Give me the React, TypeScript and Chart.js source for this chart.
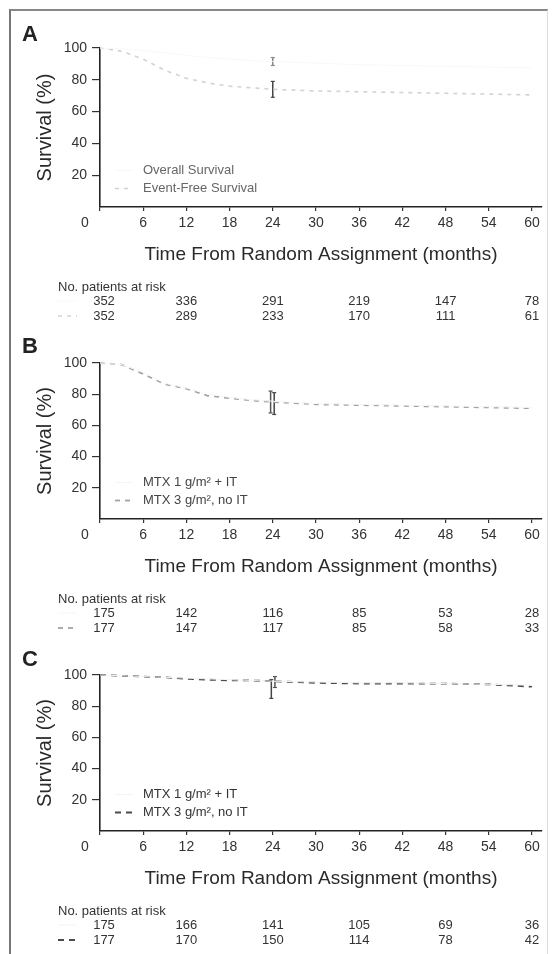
import React, { useEffect, useRef } from 'react';
import { Chart, registerables } from 'chart.js';

Chart.register(...registerables);

const FONT = '"Liberation Sans", Arial, Helvetica, sans-serif';

// ---------- shared axes ----------
const months = [0, 3, 6, 9, 12, 15, 18, 21, 24, 30, 36, 42, 48, 54, 60];
const xTickValues = [0, 6, 12, 18, 24, 30, 36, 42, 48, 54, 60];
const yTickValues = [20, 40, 60, 80, 100];
const riskMonths = [0, 12, 24, 36, 48, 60];
const xTitle = 'Time From Random Assignment (months)';
const yTitle = 'Survival (%)';
const riskHeader = 'No. patients at risk';

// ---------- panel A ----------
const aLabels = ['Overall Survival', 'Event-Free Survival'];
const aOverall = [100, 99.5, 98.5, 97, 95.5, 94, 93, 92, 91.5, 90.5, 89.5, 89, 88.5, 88, 87.5];
const aEventFree = [100, 98, 93, 86, 81, 78, 76, 75, 74, 73, 72.5, 72, 71.5, 71, 70.5];
const aRiskOverall = [352, 336, 291, 219, 147, 78];
const aRiskEventFree = [352, 289, 233, 170, 111, 61];
const aCiMonths = [24, 24];
const aCiOverall = [89, 94];
const aCiEventFree = [69, 79];

// ---------- panel B ----------
const mtxLabels = ['MTX 1 g/m² + IT', 'MTX 3 g/m², no IT'];
const bMtx1 = [100, 99, 94, 87, 84, 80, 78, 76.5, 75.5, 74, 73.5, 73, 72.5, 72, 71.5];
const bMtx3 = [100, 99, 93, 86.5, 83.5, 79, 77.5, 76, 75, 73.5, 73, 72.5, 72, 71.5, 71];
const bRisk1 = [175, 142, 116, 85, 53, 28];
const bRisk3 = [177, 147, 117, 85, 58, 33];
const bCiMonths = [23.7, 24.2];
const bCi1 = [68, 82];
const bCi3 = [67, 81];

// ---------- panel C ----------
const cMtx1 = [100, 99.5, 99, 98.5, 98, 97.5, 97, 96.5, 96, 95.5, 95, 95, 94.5, 94, 93.5];
const cMtx3 = [100, 99.5, 99, 98.5, 97.5, 97, 96.5, 96.5, 96, 95, 94.5, 94.5, 94.5, 94, 92.5];
const cRisk1 = [175, 166, 141, 105, 69, 36];
const cRisk3 = [177, 170, 150, 114, 78, 42];
const cCiMonths = [23.8, 24.3];
const cCi1 = [85, 97];
const cCi3 = [92, 99];

type Style = { color: string; width: number; dash: number[] };

type PanelSpec = {
  letter: string;
  canvasTop: number;
  canvasHeight: number;
  plotTop: number;
  plotBottom: number;
  letterY: number;
  labels: string[];
  series: number[][];
  styles: Style[];
  risk: number[][];
  ciMonths: number[];
  ci: number[][];
  ciColors: string[];
  legendColor: string;
};

const panels: PanelSpec[] = [
  {
    letter: 'A',
    canvasTop: 0,
    canvasHeight: 322,
    plotTop: 48,
    plotBottom: 207,
    letterY: 35,
    labels: aLabels,
    series: [aOverall, aEventFree],
    styles: [
      { color: '#f8f8f8', width: 1, dash: [] },
      { color: '#d2d2d2', width: 1.6, dash: [4, 5] },
    ],
    risk: [aRiskOverall, aRiskEventFree],
    ciMonths: aCiMonths,
    ci: [aCiOverall, aCiEventFree],
    ciColors: ['#888', '#444'],
    legendColor: '#666',
  },
  {
    letter: 'B',
    canvasTop: 322,
    canvasHeight: 318,
    plotTop: 363,
    plotBottom: 519,
    letterY: 347,
    labels: mtxLabels,
    series: [bMtx1, bMtx3],
    styles: [
      { color: '#f6f6f6', width: 1, dash: [] },
      { color: '#a3a3a3', width: 1.8, dash: [5, 5] },
    ],
    risk: [bRisk1, bRisk3],
    ciMonths: bCiMonths,
    ci: [bCi1, bCi3],
    ciColors: ['#555', '#444'],
    legendColor: '#444',
  },
  {
    letter: 'C',
    canvasTop: 640,
    canvasHeight: 314,
    plotTop: 675,
    plotBottom: 831,
    letterY: 660,
    labels: mtxLabels,
    series: [cMtx1, cMtx3],
    styles: [
      { color: '#f4f4f4', width: 1, dash: [] },
      { color: '#4a4a4a', width: 1.8, dash: [6, 5] },
    ],
    risk: [cRisk1, cRisk3],
    ciMonths: cCiMonths,
    ci: [cCi1, cCi3],
    ciColors: ['#444', '#555'],
    legendColor: '#333',
  },
];

function drawSample(ctx: CanvasRenderingContext2D, x1: number, x2: number, y: number, st: Style) {
  ctx.save();
  ctx.strokeStyle = st.color;
  ctx.lineWidth = st.width;
  ctx.setLineDash(st.dash);
  ctx.beginPath();
  ctx.moveTo(x1, y);
  ctx.lineTo(x2, y);
  ctx.stroke();
  ctx.restore();
}

function makeExtras(p: PanelSpec) {
  return {
    id: 'panelExtras' + p.letter,
    afterDraw(chart: any) {
      const { ctx, chartArea, scales } = chart;
      const xs = scales.x;
      ctx.save();
      // panel letter
      ctx.font = 'bold 22px ' + FONT;
      ctx.fillStyle = '#222';
      ctx.textBaseline = 'middle';
      ctx.textAlign = 'left';
      ctx.fillText(p.letter, 22, p.letterY - p.canvasTop);

      // origin label
      ctx.font = '14px ' + FONT;
      ctx.fillStyle = '#333';
      ctx.textAlign = 'center';
      ctx.fillText('0', xs.getPixelForValue(0) - 15, chartArea.bottom + 16.4);

      // legend inside plot
      ctx.font = '13px ' + FONT;
      ctx.textAlign = 'left';
      p.labels.forEach((lab, i) => {
        const y = chartArea.bottom - 36.5 + i * 18;
        drawSample(ctx, 115, 133, y, p.styles[i]);
        ctx.fillStyle = p.legendColor;
        ctx.fillText(lab, 143, y);
      });

      // risk table
      ctx.fillStyle = '#333';
      ctx.textAlign = 'left';
      ctx.fillText(riskHeader, 58, chartArea.bottom + 80);
      p.risk.forEach((row, r) => {
        const y = chartArea.bottom + 94 + r * 15;
        drawSample(ctx, 58, 77, y, p.styles[r]);
        ctx.fillStyle = '#333';
        ctx.textAlign = 'center';
        row.forEach((n, i) => {
          const px = xs.getPixelForValue(riskMonths[i]) + (i === 0 ? 4 : 0);
          ctx.fillText(String(n), px, y);
        });
      });
      ctx.restore();
    },
  };
}

function Panel({ p }: { p: PanelSpec }) {
  const ref = useRef<HTMLCanvasElement>(null);
  useEffect(() => {
    if (!ref.current) return;
    const datasets: any[] = [];
    p.series.forEach((vals, i) => {
      datasets.push({
        type: 'line',
        label: p.labels[i],
        data: months.map((m, k) => ({ x: m, y: vals[k] })),
        borderColor: p.styles[i].color,
        borderWidth: p.styles[i].width,
        borderDash: p.styles[i].dash,
        pointRadius: 0,
        tension: 0,
        fill: false,
        clip: false,
      });
    });
    p.ci.forEach((range, i) => {
      datasets.push({
        type: 'line',
        label: p.labels[i] + ' 95% CI',
        data: range.map((v) => ({ x: p.ciMonths[i], y: v })),
        borderColor: p.ciColors[i],
        borderWidth: 1.5,
        pointRadius: 2,
        pointStyle: 'line',
        pointBorderColor: p.ciColors[i],
        pointBorderWidth: 1.2,
        fill: false,
        clip: false,
      });
    });
    const tickFont = { family: FONT, size: 14 };
    const chart = new Chart(ref.current, {
      type: 'line',
      data: { datasets },
      options: {
        animation: false,
        responsive: false,
        layout: {
          padding: {
            left: 0,
            right: 11,
            top: p.plotTop - p.canvasTop,
            bottom: p.canvasTop + p.canvasHeight - p.plotBottom - 60,
          },
        },
        plugins: { legend: { display: false }, tooltip: { enabled: false } },
        scales: {
          x: {
            type: 'linear',
            min: 0,
            max: 61.4,
            afterBuildTicks: (s: any) => {
              s.ticks = xTickValues.map((v) => ({ value: v }));
            },
            afterFit: (s: any) => {
              s.height = 60;
            },
            ticks: {
              font: tickFont,
              color: '#333',
              padding: 4,
              maxRotation: 0,
              autoSkip: false,
              callback: (v: any) => (v === 0 ? '' : String(v)),
            },
            grid: { drawOnChartArea: false, drawTicks: true, tickLength: 4, color: '#333', lineWidth: 1.2 },
            border: { display: true, color: '#222', width: 1.6 },
            title: {
              display: true,
              text: xTitle,
              color: '#2a2a2a',
              font: { family: FONT, size: 19, lineHeight: 1 },
              padding: { top: 0, bottom: 2.5 },
            },
          },
          y: {
            type: 'linear',
            min: 0,
            max: 100,
            afterBuildTicks: (s: any) => {
              s.ticks = yTickValues.map((v) => ({ value: v }));
            },
            afterFit: (s: any) => {
              s.width = 100;
            },
            ticks: { font: tickFont, color: '#333', padding: 5 },
            grid: { drawOnChartArea: false, drawTicks: true, tickLength: 8, color: '#333', lineWidth: 1.2 },
            border: { display: true, color: '#222', width: 1.6 },
            title: {
              display: true,
              text: yTitle,
              color: '#2a2a2a',
              font: { family: FONT, size: 20, lineHeight: 1 },
              padding: { top: 35, bottom: 0 },
            },
          },
        },
      },
      plugins: [makeExtras(p)],
    } as any);
    return () => chart.destroy();
  }, [p]);
  return (
    <canvas
      ref={ref}
      width={553}
      height={p.canvasHeight}
      style={{ position: 'absolute', left: 0, top: p.canvasTop, width: 553, height: p.canvasHeight, display: 'block' }}
    />
  );
}

export default function App() {
  return (
    <div style={{ position: 'absolute', left: 0, top: 0, width: 553, height: 954, background: '#fff', overflow: 'hidden' }}>
      <div
        style={{
          position: 'absolute',
          left: 9,
          top: 9,
          width: 536,
          height: 950,
          borderLeft: '2px solid #777',
          borderTop: '2px solid #888',
          borderRight: '1px solid #ddd',
        }}
      />
      {panels.map((p) => (
        <Panel key={p.letter} p={p} />
      ))}
    </div>
  );
}
